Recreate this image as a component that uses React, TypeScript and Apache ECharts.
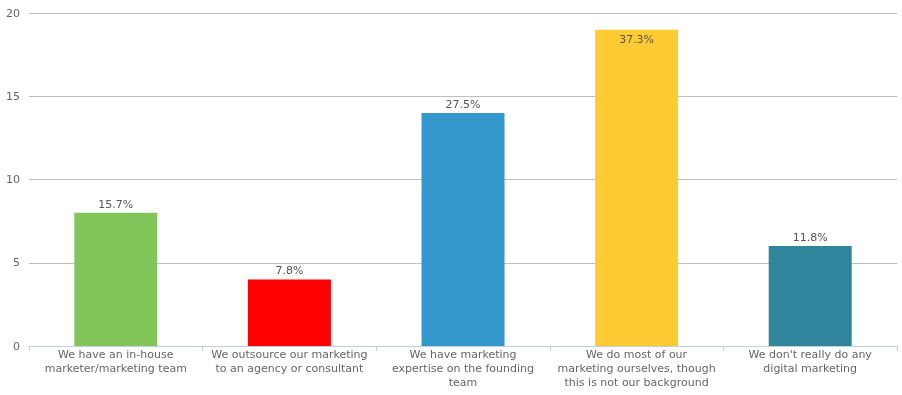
import React, { useEffect, useRef } from "react";
import * as echarts from "echarts";

const categories = [
  "We have an in-house\nmarketer/marketing team",
  "We outsource our marketing\nto an agency or consultant",
  "We have marketing\nexpertise on the founding\nteam",
  "We do most of our\nmarketing ourselves, though\nthis is not our background",
  "We don't really do any\ndigital marketing",
];
const values = [8, 4, 14, 19, 6];
const pctLabels = ["15.7%", "7.8%", "27.5%", "37.3%", "11.8%"];
const colors = ["#82C55B", "#FF0000", "#3598CD", "#FFCB33", "#30849B"];
const yTicks = { min: 0, max: 20, interval: 5 };

export default function App() {
  const ref = useRef<HTMLDivElement>(null);
  useEffect(() => {
    if (!ref.current) return;
    const chart = echarts.init(ref.current, undefined, { renderer: "svg" });
    const font = "'DejaVu Sans', Verdana, sans-serif";
    chart.setOption({
      animation: false,
      grid: { left: 29, right: 5, top: 13, bottom: 49, containLabel: false },
      xAxis: {
        type: "category",
        data: categories,
        axisLine: { lineStyle: { color: "#C0D0E0", width: 1 } },
        axisTick: { show: true, length: 5, interval: 0, alignWithLabel: false, lineStyle: { color: "#C0D0E0" } },
        axisLabel: {
          interval: 0,
          margin: 1,
          color: "#666666",
          fontSize: 11,
          fontFamily: font,
          lineHeight: 14,
          verticalAlign: "top",
        },
      },
      yAxis: {
        type: "value",
        min: yTicks.min,
        max: yTicks.max,
        interval: yTicks.interval,
        axisLine: { show: false },
        axisTick: { show: false },
        splitLine: { lineStyle: { color: "#C0C0C0", width: 1 } },
        axisLabel: { color: "#666666", fontSize: 11, fontFamily: font, margin: 9 },
      },
      series: [
        {
          type: "bar",
          barWidth: 83,
          data: values.map((v, i) => ({
            value: v,
            itemStyle: { color: colors[i] },
            label: {
              show: true,
              position: i === 3 ? "insideTop" : "top",
              distance: i === 3 ? 4 : 3,
              formatter: pctLabels[i],
              color: "#555555",
              fontSize: 11,
              fontFamily: font,
            },
          })),
        },
      ],
    });
    return () => chart.dispose();
  }, []);
  return (
    <div
      ref={ref}
      style={{ position: "fixed", left: 0, top: 0, width: 902, height: 395 }}
    />
  );
}
